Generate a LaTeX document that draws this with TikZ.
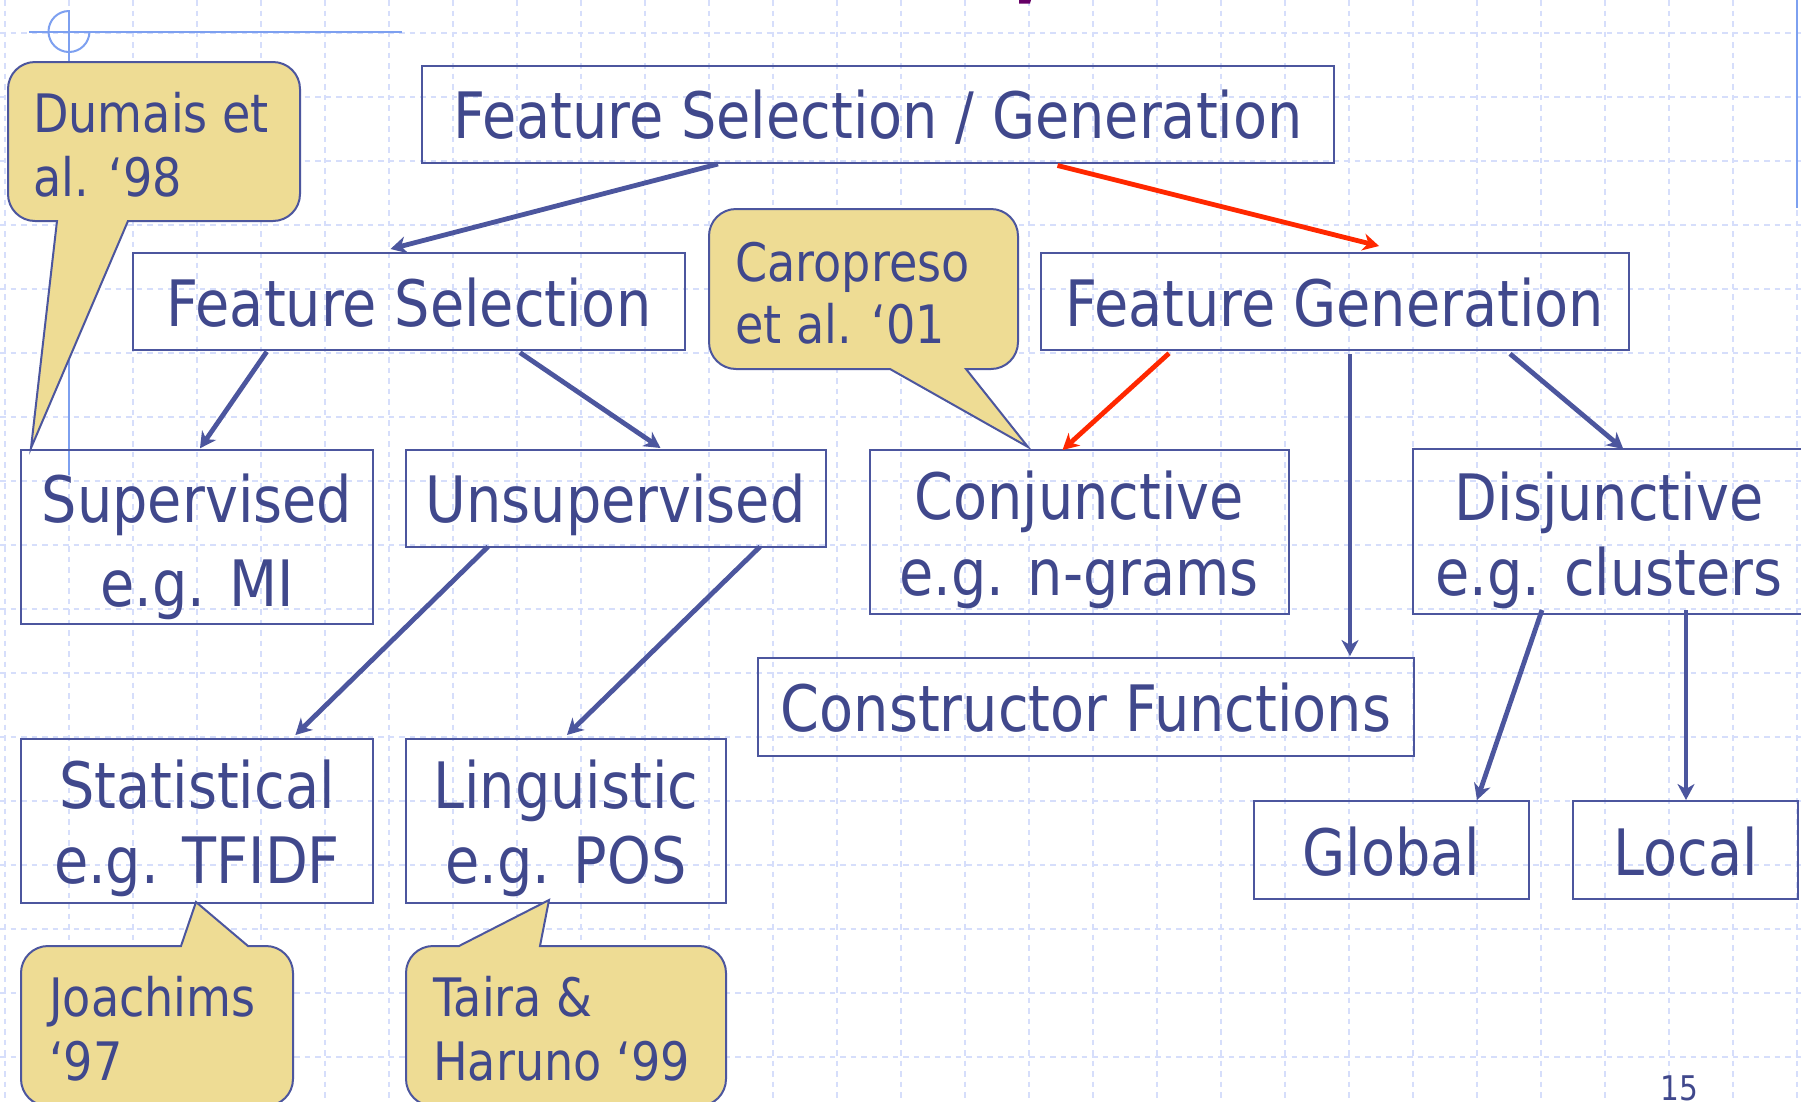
\documentclass[tikz,border=0pt]{standalone}
\usepackage{fontspec}
\setmainfont{DejaVu Sans}[FakeStretch=0.87]
\usetikzlibrary{arrows.meta,fit}

\definecolor{ink}{RGB}{64,72,140}
\definecolor{edge}{RGB}{76,86,158}
\definecolor{hot}{RGB}{255,40,0}
\definecolor{note}{RGB}{238,220,148}
\definecolor{gridc}{RGB}{214,222,251}
\definecolor{guide}{RGB}{125,160,240}
\definecolor{plum}{RGB}{102,0,102}

\tikzset{
  gridline/.style={draw=gridc, line width=1.8pt, dash pattern=on 5.5pt off 5pt},
  guideline/.style={draw=guide, line width=2pt},
  box/.style={draw=edge, line width=2pt, inner sep=0pt, outer sep=0pt, rectangle},
  big/.style={text=ink, font=\fontsize{64}{76}\selectfont, inner sep=0pt},
  small/.style={text=ink, font=\fontsize{53}{64}\selectfont, inner sep=0pt, anchor=base west},
  bubble/.style={draw=edge, line width=2pt, fill=note, line join=miter},
  arr/.style={draw=edge, line width=4.8pt, -{Stealth[length=16pt,width=17pt,inset=5pt]}},
  hotarr/.style={arr, draw=hot},
}

\begin{document}
\begin{tikzpicture}[x=1pt, y=-1pt]
\useasboundingbox (0,0) rectangle (1801,1101);
\clip (0,0) rectangle (1801,1101);
\fill[white] (0,0) rectangle (1801,1101);

% dashed background grid
\foreach \gx in {5,69,...,1797} \draw[gridline] (\gx,0) -- (\gx,1101);
\foreach \gy in {33,97,...,1057} \draw[gridline] (0,\gy) -- (1801,\gy);

% guide marks of the slide template
\draw[guideline] (29,31.5) -- (402,31.5);
\draw[guideline] (69,10) -- (69,475);
\draw[guideline] (69,11) arc[start angle=90, end angle=360, radius=20.5pt];
\draw[guideline, line width=2.5pt] (1797,0) -- (1797,208);
\fill[plum] (1019,0) -- (1031,0) -- (1030,3.5) -- (1019,3.5) -- cycle;

% boxes
\node[box, fit={(421.5,65.5) (1333.5,163)}] (fsg) {};
\node[box, fit={(133,253) (684.5,350)}] (fs) {};
\node[box, fit={(1040.6,253) (1628.7,350)}] (fg) {};
\node[box, fit={(20.7,450) (373.3,623.7)}] (sup) {};
\node[box, fit={(405.5,450) (825.8,546.7)}] (uns) {};
\node[box, fit={(869.5,450) (1288.7,614)}] (con) {};
\node[box, fit={(1413,449) (1805,614)}] (dis) {};
\node[box, fit={(758,658) (1414,756)}] (cf) {};
\node[box, fit={(20.7,738.5) (373.3,903)}] (sta) {};
\node[box, fit={(405.5,738.5) (726,903)}] (lin) {};
\node[box, fit={(1254,801) (1529,899)}] (glo) {};
\node[box, fit={(1573,801) (1798,899)}] (loc) {};

% box labels
\node[big, anchor=base] (fsgT) at (878,138.3) {Feature Selection / Generation};
\node[big, anchor=base] (fsT) at (409,326.5) {Feature Selection};
\node[big, anchor=base] (fgT) at (1334.6,326.5) {Feature Generation};
\node[big, anchor=base] (supT1) at (197,522.7) {Supervised};
\node[big, anchor=base] (supT2) at (197,606.7) {e.g. MI};
\node[big, anchor=base] (unsT) at (615.6,522.7) {Unsupervised};
\node[big, anchor=base] (conT1) at (1079,519) {Conjunctive};
\node[big, anchor=base] (conT2) at (1079,595) {e.g. n-grams};
\node[big, anchor=base] (disT1) at (1609,520) {Disjunctive};
\node[big, anchor=base] (disT2) at (1609,595) {e.g. clusters};
\node[big, anchor=base] (cfT) at (1086,731.6) {Constructor Functions};
\node[big, anchor=base] (staT1) at (197,808) {Statistical};
\node[big, anchor=base] (staT2) at (197,883.5) {e.g. TFIDF};
\node[big, anchor=base] (linT1) at (565.75,808) {Linguistic};
\node[big, anchor=base] (linT2) at (565.75,883.5) {e.g. POS};
\node[big, anchor=base] (gloT) at (1391.5,875.5) {Global};
\node[big, anchor=base] (locT) at (1685.5,875.5) {Local};

% connectors
\draw[arr] ([xshift=-159.5pt,yshift=-1pt]fsg.south) -- ([xshift=-18.25pt,yshift=4pt]fs.north);
\draw[hotarr] ([xshift=180pt,yshift=-2.5pt]fsg.south) -- ([xshift=44.4pt,yshift=7pt]fg.north);
\draw[arr] ([xshift=-142pt,yshift=-1.7pt]fs.south) -- ([xshift=3pt,yshift=1.7pt]sup.north);
\draw[arr] ([xshift=111.25pt,yshift=-2.6pt]fs.south) -- ([xshift=44.85pt,yshift=2pt]uns.north);
\draw[hotarr] ([xshift=-165.65pt,yshift=-3.3pt]fg.south) -- ([xshift=-16.6pt]con.north);
\draw[arr] ([xshift=15.35pt,yshift=-4pt]fg.south) -- ([xshift=264pt,yshift=2pt]cf.north);
\draw[arr] ([xshift=175.35pt,yshift=-3.8pt]fg.south) -- ([xshift=14.3pt]dis.north);
\draw[arr] ([xshift=-127.65pt]uns.south) -- ([xshift=98.4pt,yshift=3.5pt]sta.north);
\draw[arr] ([xshift=144.35pt]uns.south) -- ([xshift=1.25pt,yshift=3.5pt]lin.north);
\draw[arr] ([xshift=-67pt,yshift=4pt]dis.south) -- ([xshift=85.5pt,yshift=1pt]glo.north);
\draw[arr] ([xshift=77pt,yshift=4pt]dis.south) -- ([xshift=0.5pt,yshift=1pt]loc.north);

% citation callouts
\draw[bubble] (57,221) -- (31,448) -- (128,221) -- (273,221)
  arc[start angle=-90, end angle=0, radius=27pt] -- (300,89)
  arc[start angle=0, end angle=90, radius=27pt] -- (35,62)
  arc[start angle=90, end angle=180, radius=27pt] -- (8,194)
  arc[start angle=180, end angle=270, radius=27pt] -- cycle;
\draw[bubble] (890,369) -- (1028,447) -- (966,369) -- (991,369)
  arc[start angle=-90, end angle=0, radius=27pt] -- (1018,236)
  arc[start angle=0, end angle=90, radius=27pt] -- (736,209)
  arc[start angle=90, end angle=180, radius=27pt] -- (709,342)
  arc[start angle=180, end angle=270, radius=27pt] -- cycle;
\draw[bubble] (181,946) -- (196,902) -- (248,946) -- (266,946)
  arc[start angle=90, end angle=0, radius=27pt] -- (293,1079)
  arc[start angle=0, end angle=-90, radius=27pt] -- (48,1106)
  arc[start angle=270, end angle=180, radius=27pt] -- (21,973)
  arc[start angle=180, end angle=90, radius=27pt] -- cycle;
\draw[bubble] (459,946) -- (549,900) -- (540,946) -- (699,946)
  arc[start angle=90, end angle=0, radius=27pt] -- (726,1079)
  arc[start angle=0, end angle=-90, radius=27pt] -- (433,1106)
  arc[start angle=270, end angle=180, radius=27pt] -- (406,973)
  arc[start angle=180, end angle=90, radius=27pt] -- cycle;

\node[small] (dum1) at (33,132) {Dumais et};
\node[small] (dum2) at (33,196) {al. ‘98};
\node[small] (car1) at (735,281) {Caropreso};
\node[small] (car2) at (735,343.5) {et al. ‘01};
\node[small] (joa1) at (49,1016) {Joachims};
\node[small] (joa2) at (49,1080) {‘97};
\node[small] (tai1) at (433,1016) {Taira \&};
\node[small] (tai2) at (433,1080) {Haruno ‘99};

% slide number
\node[anchor=base west, text=ink, font=\fontsize{34}{40}\selectfont, inner sep=0pt] (pg) at (1660,1100) {15};
\end{tikzpicture}
\end{document}
